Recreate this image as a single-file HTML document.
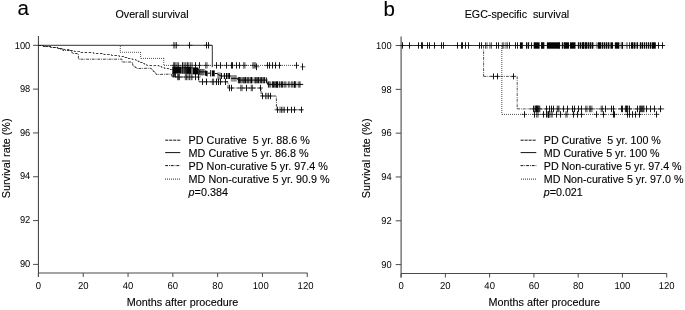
<!DOCTYPE html>
<html><head><meta charset="utf-8"><title>Survival curves</title>
<style>html,body{margin:0;padding:0;background:#fff}body{width:685px;height:310px;overflow:hidden}svg{display:block;will-change:transform}text{font-family:"Liberation Sans",sans-serif;stroke:#000;stroke-width:0.12px}</style></head>
<body>
<svg width="685" height="310" viewBox="0 0 685 310" font-family="Liberation Sans, sans-serif" fill="#000" >
<path d="M38.45 35.9V277.0" stroke="#4a4a4a" stroke-width="1.1" fill="none"/>
<path d="M38.45 273.0H307.6" stroke="#4a4a4a" stroke-width="1.1" fill="none"/>
<path d="M33.050000000000004 45.30H38.45" stroke="#4a4a4a" stroke-width="1" fill="none"/>
<text transform="translate(30.25,48.50) scale(0.93,1)" font-size="10" text-anchor="end" style="stroke:none;text-rendering:geometricPrecision">100</text>
<path d="M33.050000000000004 89.12H38.45" stroke="#4a4a4a" stroke-width="1" fill="none"/>
<text transform="translate(30.25,92.15) scale(0.93,1)" font-size="10" text-anchor="end" style="stroke:none;text-rendering:geometricPrecision">98</text>
<path d="M33.050000000000004 132.94H38.45" stroke="#4a4a4a" stroke-width="1" fill="none"/>
<text transform="translate(30.25,135.80) scale(0.93,1)" font-size="10" text-anchor="end" style="stroke:none;text-rendering:geometricPrecision">96</text>
<path d="M33.050000000000004 176.76H38.45" stroke="#4a4a4a" stroke-width="1" fill="none"/>
<text transform="translate(30.25,179.45) scale(0.93,1)" font-size="10" text-anchor="end" style="stroke:none;text-rendering:geometricPrecision">94</text>
<path d="M33.050000000000004 220.58H38.45" stroke="#4a4a4a" stroke-width="1" fill="none"/>
<text transform="translate(30.25,223.10) scale(0.93,1)" font-size="10" text-anchor="end" style="stroke:none;text-rendering:geometricPrecision">92</text>
<path d="M33.050000000000004 264.40H38.45" stroke="#4a4a4a" stroke-width="1" fill="none"/>
<text transform="translate(30.25,266.75) scale(0.93,1)" font-size="10" text-anchor="end" style="stroke:none;text-rendering:geometricPrecision">90</text>
<path d="M38.45 273.0V277.0" stroke="#4a4a4a" stroke-width="1" fill="none"/>
<text transform="translate(38.45,289.30) scale(0.95,1)" font-size="10" text-anchor="middle" style="stroke:none;text-rendering:geometricPrecision">0</text>
<path d="M83.25 273.0V277.0" stroke="#4a4a4a" stroke-width="1" fill="none"/>
<text transform="translate(83.25,289.30) scale(0.95,1)" font-size="10" text-anchor="middle" style="stroke:none;text-rendering:geometricPrecision">20</text>
<path d="M128.05 273.0V277.0" stroke="#4a4a4a" stroke-width="1" fill="none"/>
<text transform="translate(128.05,289.30) scale(0.95,1)" font-size="10" text-anchor="middle" style="stroke:none;text-rendering:geometricPrecision">40</text>
<path d="M172.85 273.0V277.0" stroke="#4a4a4a" stroke-width="1" fill="none"/>
<text transform="translate(172.85,289.30) scale(0.95,1)" font-size="10" text-anchor="middle" style="stroke:none;text-rendering:geometricPrecision">60</text>
<path d="M217.65 273.0V277.0" stroke="#4a4a4a" stroke-width="1" fill="none"/>
<text transform="translate(217.65,289.30) scale(0.95,1)" font-size="10" text-anchor="middle" style="stroke:none;text-rendering:geometricPrecision">80</text>
<path d="M262.45 273.0V277.0" stroke="#4a4a4a" stroke-width="1" fill="none"/>
<text transform="translate(260.75,289.30) scale(0.95,1)" font-size="10" text-anchor="middle" style="stroke:none;text-rendering:geometricPrecision">100</text>
<path d="M307.25 273.0V277.0" stroke="#4a4a4a" stroke-width="1" fill="none"/>
<text transform="translate(305.55,289.30) scale(0.95,1)" font-size="10" text-anchor="middle" style="stroke:none;text-rendering:geometricPrecision">120</text>
<text x="17.6" y="15.2" font-size="20.5" text-anchor="start" >a</text>
<text x="152.0" y="18.1" font-size="10.7" text-anchor="middle" >Overall survival</text>
<text x="305.6" y="306" font-size="10.8" text-anchor="start" ></text>
<text x="126.7" y="306" font-size="10.8" text-anchor="start" >Months after procedure</text>
<text transform="translate(10,158.4) rotate(-90)" font-size="10.8" text-anchor="middle">Survival rate (%)</text>
<polyline points="38.5,45.3 38.5,45.5 43.5,45.5 43.5,46.5 50.7,46.5 50.7,47.5 57.9,47.5 57.9,48.5 60.0,48.5 60.0,48.5 63.7,48.5 63.7,49.5 68.9,49.5 68.9,50.5 74.2,50.5 74.2,51.5 78.4,51.5 78.4,51.5 80.9,51.5 80.9,52.5 93.6,52.5 93.6,53.5 100.0,53.5 100.0,53.5 103.8,53.5 103.8,54.5 111.5,54.5 111.5,55.5 119.2,55.5 119.2,56.5 120.0,56.5 120.0,56.5 123.8,56.5 123.8,57.5 128.0,57.5 128.0,58.5 132.2,58.5 132.2,59.5 135.2,59.5 135.2,59.5 135.9,59.5 135.9,60.5 138.1,60.5 138.1,61.5 140.3,61.5 140.3,62.5 142.4,62.5 142.4,63.5 144.6,63.5 144.6,64.5 146.8,64.5 146.8,65.5 147.5,65.5 157.9,65.6 157.9,65.5 159.0,65.5 159.0,66.5 161.6,66.5 161.6,67.5 164.0,67.5 164.0,67.5 164.4,67.5 164.4,68.5 168.7,68.5 168.7,69.5 171.3,69.5 172.5,69.8" fill="none" stroke="#1a1a1a" stroke-width="0.85" stroke-dasharray="2.5 1.6"/>
<path d="M120.3 46.0L120.3 52.3" fill="none" stroke="#1a1a1a" stroke-width="0.75" stroke-dasharray="1 1"/>
<path d="M120.0 52.3L140.6 52.3" fill="none" stroke="#1a1a1a" stroke-width="0.75" stroke-dasharray="1 1"/>
<path d="M140.6 52.0L140.6 58.4" fill="none" stroke="#1a1a1a" stroke-width="0.75" stroke-dasharray="1 1"/>
<path d="M141.0 58.4L163.8 58.4" fill="none" stroke="#1a1a1a" stroke-width="0.75" stroke-dasharray="1 1"/>
<path d="M163.8 58.0L163.8 65.4" fill="none" stroke="#1a1a1a" stroke-width="0.75" stroke-dasharray="1 1"/>
<path d="M164.0 65.4L300.0 65.4" fill="none" stroke="#1a1a1a" stroke-width="0.75" stroke-dasharray="1 1"/>
<polyline points="38.5,45.3 38.5,45.5 43.4,45.5 43.4,46.5 50.3,46.5 50.3,47.5 57.2,47.5 57.2,48.5 60.0,48.5 60.0,48.5 60.6,48.5 60.6,49.5 61.5,49.5 61.5,49.5 62.9,49.5 62.9,50.5 71.0,50.5 71.0,50.5 71.2,50.5 71.2,51.5 71.8,51.5 71.8,52.5 72.4,52.5 72.4,53.5 72.5,53.5 72.5,53.5 77.2,53.5 77.2,54.5 78.4,54.5 78.4,59.2 122.0,59.2 122.0,62.0 132.0,62.0 132.0,62.5 132.3,62.5 132.3,63.5 132.6,63.5 132.6,64.5 132.9,64.5 132.9,65.5 133.0,65.5 133.0,65.5 133.9,65.5 133.9,66.5 135.2,66.5 135.2,67.5 136.4,67.5 136.4,68.5 136.7,68.5 150.6,68.2 150.6,68.5 151.4,68.5 151.4,69.5 152.3,69.5 152.3,70.5 153.3,70.5 153.3,71.5 154.3,71.5 154.3,72.5 155.2,72.5 155.2,73.5 156.2,73.5 156.2,74.5 156.3,74.5 171.5,74.1 172.0,77.0 199.0,77.0 199.0,81.8 228.0,81.8 228.0,88.0 261.2,88.0 261.2,96.0 276.4,96.0 276.4,109.8 304.0,109.8" fill="none" stroke="#1a1a1a" stroke-width="0.85" stroke-dasharray="2.8 1 0.8 1"/>
<polyline points="38.5,45.3 212.3,45.3 212.3,67.2" fill="none" stroke="#1a1a1a" stroke-width="0.9"/>
<path d="M171.2 45.3H179.1M187.2 45.3H192.4M203.8 45.3H211.5" stroke="#1a1a1a" stroke-width="0.75" fill="none"/>
<path d="M189.5 42.1V48.5M206.5 42.1V48.5M208.5 42.1V48.5" stroke="#000" stroke-width="0.9" fill="none" opacity="1"/>
<path d="M173.8 42.1V48.5M175.0 42.1V48.5M176.5 42.1V48.5" stroke="#000" stroke-width="0.7" fill="none" opacity="1"/>
<path d="M254.2 66.8H259.4M300.2 66.8H305.4" stroke="#1a1a1a" stroke-width="0.75" fill="none"/>
<path d="M256.5 63.4V70.2M302.5 63.4V70.2" stroke="#000" stroke-width="0.9" fill="none" opacity="1"/>
<path d="M171.0 65.4H201.9M203.1 65.4H209.6M213.9 65.4H223.4M223.5 65.4H247.5M250.3 65.4H257.8M264.8 65.4H281.6M293.8 65.4H299.0" stroke="#1a1a1a" stroke-width="0.75" fill="none"/>
<path d="M182.5 62.2V68.6M195.5 62.2V68.6M199.5 62.2V68.6M216.5 62.2V68.6M220.5 62.2V68.6M226.5 62.2V68.6M231.5 62.2V68.6M232.5 62.2V68.6M236.5 62.2V68.6M239.5 62.2V68.6M267.5 62.2V68.6M269.5 62.2V68.6M272.5 62.2V68.6M275.5 62.2V68.6M279.5 62.2V68.6M296.5 62.2V68.6" stroke="#000" stroke-width="0.9" fill="none" opacity="1"/>
<path d="M173.6 62.2V68.6M174.5 62.2V68.6M175.8 62.2V68.6M177.2 62.2V68.6M178.6 62.2V68.6M184.0 62.2V68.6M185.3 62.2V68.6M187.1 62.2V68.6M187.6 62.2V68.6M188.9 62.2V68.6M190.7 62.2V68.6M192.1 62.2V68.6M205.7 62.2V68.6M207.0 62.2V68.6M243.7 62.2V68.6M244.9 62.2V68.6M252.9 62.2V68.6M254.0 62.2V68.6M255.2 62.2V68.6" stroke="#000" stroke-width="0.7" fill="none" opacity="1"/>
<path d="M175.0 77.0H182.1M182.7 77.0H200.6" stroke="#1a1a1a" stroke-width="0.75" fill="none"/>
<path d="M195.5 73.8V80.2M198.5 73.8V80.2" stroke="#000" stroke-width="0.9" fill="none" opacity="1"/>
<path d="M177.6 73.8V80.2M178.5 73.8V80.2M179.5 73.8V80.2M185.3 73.8V80.2M186.5 73.8V80.2M188.0 73.8V80.2M189.5 73.8V80.2M191.0 73.8V80.2M192.0 73.8V80.2" stroke="#000" stroke-width="0.7" fill="none" opacity="1"/>
<path d="M199.9 81.8H209.0M209.8 81.8H228.0" stroke="#1a1a1a" stroke-width="0.75" fill="none"/>
<path d="M202.5 78.6V85.0M206.5 78.6V85.0M216.5 78.6V85.0M218.5 78.6V85.0M220.5 78.6V85.0M225.5 78.6V85.0" stroke="#000" stroke-width="0.9" fill="none" opacity="1"/>
<path d="M212.4 78.6V85.0M213.6 78.6V85.0" stroke="#000" stroke-width="0.7" fill="none" opacity="1"/>
<path d="M227.2 88.0H234.2M238.2 88.0H248.6M248.7 88.0H255.0M257.8 88.0H263.0" stroke="#1a1a1a" stroke-width="0.75" fill="none"/>
<path d="M229.5 84.8V91.2M231.5 84.8V91.2M246.5 84.8V91.2M260.5 84.8V91.2" stroke="#000" stroke-width="0.9" fill="none" opacity="1"/>
<path d="M240.8 84.8V91.2M242.0 84.8V91.2M251.3 84.8V91.2M252.4 84.8V91.2" stroke="#000" stroke-width="0.7" fill="none" opacity="1"/>
<path d="M260.1 96.0H273.2" stroke="#1a1a1a" stroke-width="0.75" fill="none"/>
<path d="M262.5 92.8V99.2M270.5 92.8V99.2" stroke="#000" stroke-width="0.9" fill="none" opacity="1"/>
<path d="M265.6 92.8V99.2M267.0 92.8V99.2M268.5 92.8V99.2" stroke="#000" stroke-width="0.7" fill="none" opacity="1"/>
<path d="M274.6 109.8H297.2M298.5 109.8H303.7" stroke="#1a1a1a" stroke-width="0.75" fill="none"/>
<path d="M277.5 106.7V112.9M287.5 106.7V112.9M291.5 106.7V112.9M294.5 106.7V112.9M301.5 106.7V112.9" stroke="#000" stroke-width="0.9" fill="none" opacity="1"/>
<path d="M280.0 106.7V112.9M281.5 106.7V112.9M283.0 106.7V112.9M284.4 106.7V112.9" stroke="#000" stroke-width="0.7" fill="none" opacity="1"/>
<path d="M172.3 66.60H181.6V73.60H172.3Z" fill="#050505" opacity="1"/>
<path d="M172.4 72.80H176V77.20H172.4Z" fill="#050505" opacity="0.85"/>
<path d="M181.6 66.70H186.1V73.70H181.6Z" fill="#050505" opacity="0.55"/>
<path d="M182.60 66.70V73.70M184.20 66.70V73.70M185.40 66.70V73.70" stroke="#000" stroke-width="0.8" fill="none" opacity="1"/>
<path d="M186.1 66.70H191.4V73.90H186.1Z" fill="#050505" opacity="1"/>
<path d="M191.4 67.00H192.9V74.00H191.4Z" fill="#050505" opacity="0.55"/>
<path d="M192.9 67.40H198.2V74.40H192.9Z" fill="#050505" opacity="1"/>
<path d="M198.2 67.6L199.6 70.2V74.4H198.2Z" fill="#050505"/>
<path d="M199 71.9H205.2M207.6 73.2H210M214.7 73.5H217.5" stroke="#000" stroke-width="1" fill="none"/>
<path d="M199.60 69.00V75.40M200.50 69.00V75.40M201.40 69.00V75.40M202.30 69.00V75.40M203.20 69.00V75.40M204.10 69.00V75.40" stroke="#000" stroke-width="0.7" fill="none" opacity="0.9"/>
<path d="M205 70.2L207.6 70.9V76.5L205 75.6Z" fill="#050505"/>
<path d="M210.60 70.10V76.50" stroke="#000" stroke-width="0.9" fill="none" opacity="1"/>
<path d="M211.8 70.35H214.7V76.35H211.8Z" fill="#050505" opacity="1"/>
<path d="M217.60 72.40V79.60M218.50 72.40V79.60M219.40 72.40V79.60M220.30 72.40V79.60" stroke="#000" stroke-width="0.55" fill="none" opacity="0.7"/>
<path d="M217.5 74.2L221 76H231M231 78.3H237.5L238 80.1H267.4M266.5 80.1L267.6 84.4H303.2" stroke="#000" stroke-width="1" fill="none"/>
<path d="M221.40 73.10V78.90M224.40 73.10V78.90M226.50 73.10V78.90M228.10 73.10V78.90M229.40 73.10V78.90" stroke="#000" stroke-width="1.05" fill="none" opacity="1"/>
<path d="M231.20 75.00V81.60M232.05 75.00V81.60M232.90 75.00V81.60M233.75 75.00V81.60M234.60 75.00V81.60M235.45 75.00V81.60M236.30 75.00V81.60" stroke="#000" stroke-width="0.55" fill="none" opacity="0.75"/>
<path d="M238.40 77.10V83.30M239.60 77.10V83.30M240.90 77.10V83.30M243.00 77.10V83.30M244.20 77.10V83.30M245.50 77.10V83.30M247.20 77.10V83.30M248.80 77.10V83.30M255.10 77.10V83.30M256.00 77.10V83.30M257.20 77.10V83.30M258.50 77.10V83.30M260.20 77.10V83.30M261.40 77.10V83.30M263.10 77.10V83.30M264.40 77.10V83.30" stroke="#000" stroke-width="0.95" fill="none" opacity="1"/>
<path d="M250.4 77.00H252.3V83.40H250.4Z" fill="#050505" opacity="1"/>
<path d="M238.2 77.20H266V83.20H238.2Z" fill="#050505" opacity="0.22"/>
<path d="M266.60 77.40V83.20" stroke="#000" stroke-width="0.9" fill="none" opacity="1"/>
<path d="M268.40 81.40V87.60M270.00 81.40V87.60M272.60 81.40V87.60M273.40 81.40V87.60M274.20 81.40V87.60M279.70 81.40V87.60M281.40 81.40V87.60M282.60 81.40V87.60" stroke="#000" stroke-width="0.95" fill="none" opacity="1"/>
<path d="M275.4 81.30H278.1V87.70H275.4Z" fill="#050505" opacity="1"/>
<path d="M294 81.30H295.7V87.70H294Z" fill="#050505" opacity="1"/>
<path d="M284.30 81.40V87.60M285.10 81.40V87.60M285.90 81.40V87.60M288.50 81.40V87.60M289.30 81.40V87.60M291.40 81.40V87.60M292.20 81.40V87.60M293.00 81.40V87.60M298.60 81.40V87.60M299.40 81.40V87.60M300.20 81.40V87.60" stroke="#000" stroke-width="0.6" fill="none" opacity="0.8"/>
<path d="M268.2 81.60H301V87.40H268.2Z" fill="#050505" opacity="0.18"/>
<path d="M165.2 140.2H180.3" stroke="#111" stroke-width="1.0" fill="none" stroke-dasharray="3.05 0.95"/>
<text x="188.6" y="143.9" font-size="10.8" text-anchor="start" xml:space="preserve">PD Curative  5 yr. 88.6 %</text>
<path d="M165.2 152.6H180.3" stroke="#111" stroke-width="1.0" fill="none"/>
<text x="188.6" y="157.0" font-size="10.8" text-anchor="start" xml:space="preserve">MD Curative 5 yr. 86.8 %</text>
<path d="M165.2 165.6H180.3" stroke="#111" stroke-width="1.0" fill="none" stroke-dasharray="2.8 1 0.8 1"/>
<text x="188.6" y="169.8" font-size="10.8" text-anchor="start" xml:space="preserve">PD Non-curative 5 yr. 97.4 %</text>
<path d="M165 179.2H180.3" stroke="#555" stroke-width="1.3" fill="none" stroke-dasharray="1 1"/>
<text x="188.6" y="183.0" font-size="10.8" text-anchor="start" xml:space="preserve">MD Non-curative 5 yr. 90.9 %</text>
<text x="188.6" y="196.3" font-size="10.8"><tspan font-style="italic">p</tspan>=0.384</text>
<path d="M401.1 36.5V277.5" stroke="#4a4a4a" stroke-width="1.1" fill="none"/>
<path d="M401.1 273.5H666.9" stroke="#4a4a4a" stroke-width="1.1" fill="none"/>
<path d="M395.70000000000005 45.55H401.1" stroke="#4a4a4a" stroke-width="1" fill="none"/>
<text transform="translate(391.60,49.10) scale(0.93,1)" font-size="10" text-anchor="end" style="stroke:none;text-rendering:geometricPrecision">100</text>
<path d="M395.70000000000005 89.36H401.1" stroke="#4a4a4a" stroke-width="1" fill="none"/>
<text transform="translate(391.60,92.78) scale(0.93,1)" font-size="10" text-anchor="end" style="stroke:none;text-rendering:geometricPrecision">98</text>
<path d="M395.70000000000005 133.17H401.1" stroke="#4a4a4a" stroke-width="1" fill="none"/>
<text transform="translate(391.60,136.46) scale(0.93,1)" font-size="10" text-anchor="end" style="stroke:none;text-rendering:geometricPrecision">96</text>
<path d="M395.70000000000005 176.98H401.1" stroke="#4a4a4a" stroke-width="1" fill="none"/>
<text transform="translate(391.60,180.14) scale(0.93,1)" font-size="10" text-anchor="end" style="stroke:none;text-rendering:geometricPrecision">94</text>
<path d="M395.70000000000005 220.79H401.1" stroke="#4a4a4a" stroke-width="1" fill="none"/>
<text transform="translate(391.60,223.82) scale(0.93,1)" font-size="10" text-anchor="end" style="stroke:none;text-rendering:geometricPrecision">92</text>
<path d="M395.70000000000005 264.60H401.1" stroke="#4a4a4a" stroke-width="1" fill="none"/>
<text transform="translate(391.60,267.50) scale(0.93,1)" font-size="10" text-anchor="end" style="stroke:none;text-rendering:geometricPrecision">90</text>
<path d="M401.10 273.5V277.5" stroke="#4a4a4a" stroke-width="1" fill="none"/>
<text transform="translate(401.10,289.40) scale(0.95,1)" font-size="10" text-anchor="middle" style="stroke:none;text-rendering:geometricPrecision">0</text>
<path d="M445.37 273.5V277.5" stroke="#4a4a4a" stroke-width="1" fill="none"/>
<text transform="translate(445.37,289.40) scale(0.95,1)" font-size="10" text-anchor="middle" style="stroke:none;text-rendering:geometricPrecision">20</text>
<path d="M489.64 273.5V277.5" stroke="#4a4a4a" stroke-width="1" fill="none"/>
<text transform="translate(489.64,289.40) scale(0.95,1)" font-size="10" text-anchor="middle" style="stroke:none;text-rendering:geometricPrecision">40</text>
<path d="M533.91 273.5V277.5" stroke="#4a4a4a" stroke-width="1" fill="none"/>
<text transform="translate(533.91,289.40) scale(0.95,1)" font-size="10" text-anchor="middle" style="stroke:none;text-rendering:geometricPrecision">60</text>
<path d="M578.18 273.5V277.5" stroke="#4a4a4a" stroke-width="1" fill="none"/>
<text transform="translate(578.18,289.40) scale(0.95,1)" font-size="10" text-anchor="middle" style="stroke:none;text-rendering:geometricPrecision">80</text>
<path d="M622.45 273.5V277.5" stroke="#4a4a4a" stroke-width="1" fill="none"/>
<text transform="translate(622.45,289.40) scale(0.95,1)" font-size="10" text-anchor="middle" style="stroke:none;text-rendering:geometricPrecision">100</text>
<path d="M666.72 273.5V277.5" stroke="#4a4a4a" stroke-width="1" fill="none"/>
<text transform="translate(666.72,289.40) scale(0.95,1)" font-size="10" text-anchor="middle" style="stroke:none;text-rendering:geometricPrecision">120</text>
<text x="383.6" y="15.6" font-size="20.5" text-anchor="start" >b</text>
<text x="464.7" y="18.1" font-size="10.7" xml:space="preserve">EGC-specific  survival</text>
<text x="488.5" y="306.1" font-size="10.8" text-anchor="start" >Months after procedure</text>
<text transform="translate(370,158.4) rotate(-90)" font-size="10.8" text-anchor="middle">Survival rate (%)</text>
<path d="M483.6 45.8L483.6 76.4" fill="none" stroke="#1a1a1a" stroke-width="0.75" stroke-dasharray="2.8 1 0.8 1"/>
<path d="M483.6 76.4L517.2 76.4" fill="none" stroke="#1a1a1a" stroke-width="0.75" stroke-dasharray="2.8 1 0.8 1"/>
<path d="M517.2 76.4L517.2 108.9" fill="none" stroke="#1a1a1a" stroke-width="0.75" stroke-dasharray="2.8 1 0.8 1"/>
<path d="M517.2 108.9L664.2 108.9" fill="none" stroke="#1a1a1a" stroke-width="0.75" stroke-dasharray="2.8 1 0.8 1"/>
<path d="M501.8 46.0L501.8 114.4" fill="none" stroke="#1a1a1a" stroke-width="0.75" stroke-dasharray="1 1"/>
<path d="M502.0 114.4L658.9 114.4" fill="none" stroke="#1a1a1a" stroke-width="0.75" stroke-dasharray="1 1"/>
<polyline points="401.2,45.5 664.8,45.5" fill="none" stroke="#1a1a1a" stroke-width="0.9"/>
<path d="M399.8 45.5H405.0M406.8 45.5H412.0M416.3 45.5H436.8M438.5 45.5H446.3M454.7 45.5H470.9M477.1 45.5H494.0M494.2 45.5H511.9M512.9 45.5H520.3" stroke="#1a1a1a" stroke-width="0.75" fill="none"/>
<path d="M402.5 42.3V48.7M409.5 42.3V48.7M418.5 42.3V48.7M421.5 42.3V48.7M422.5 42.3V48.7M427.5 42.3V48.7M429.5 42.3V48.7M434.5 42.3V48.7M441.5 42.3V48.7M443.5 42.3V48.7M457.5 42.3V48.7M461.5 42.3V48.7M462.5 42.3V48.7M465.5 42.3V48.7M468.5 42.3V48.7M479.5 42.3V48.7M481.5 42.3V48.7M496.5 42.3V48.7M498.5 42.3V48.7M509.5 42.3V48.7M515.5 42.3V48.7M517.5 42.3V48.7" stroke="#000" stroke-width="0.9" fill="none" opacity="1"/>
<path d="M485.5 42.3V48.7M487.0 42.3V48.7M489.9 42.3V48.7M491.4 42.3V48.7M502.3 42.3V48.7M503.8 42.3V48.7M506.0 42.3V48.7M507.4 42.3V48.7" stroke="#000" stroke-width="0.7" fill="none" opacity="1"/>
<path d="M519.9 42.30H522.8V48.70H519.9Z" fill="#050505" opacity="1"/>
<path d="M526.4 42.40H529.3V48.60H526.4Z" fill="#050505" opacity="0.42"/>
<path d="M533.7 42.30H539.6V48.70H533.7Z" fill="#050505" opacity="1"/>
<path d="M541 42.40H544.7V48.60H541Z" fill="#050505" opacity="0.5"/>
<path d="M546.9 42.30H559.5V48.70H546.9Z" fill="#050505" opacity="1"/>
<path d="M559.5 42.40H561.7V48.60H559.5Z" fill="#050505" opacity="0.08"/>
<path d="M561.7 42.40H564.6V48.60H561.7Z" fill="#050505" opacity="0.42"/>
<path d="M564.6 42.30H569V48.70H564.6Z" fill="#050505" opacity="1"/>
<path d="M569 42.40H571V48.60H569Z" fill="#050505" opacity="0.08"/>
<path d="M571 42.30H575.5V48.70H571Z" fill="#050505" opacity="1"/>
<path d="M577.7 42.40H583.6V48.60H577.7Z" fill="#050505" opacity="0.42"/>
<path d="M583.6 42.40H593.8V48.60H583.6Z" fill="#050505" opacity="0.5"/>
<path d="M593.8 42.40H596V48.60H593.8Z" fill="#050505" opacity="0.08"/>
<path d="M596 42.40H610.5V48.60H596Z" fill="#050505" opacity="0.42"/>
<path d="M610.5 42.30H613V48.70H610.5Z" fill="#050505" opacity="1"/>
<path d="M613 42.40H614.9V48.60H613Z" fill="#050505" opacity="0.08"/>
<path d="M614.9 42.30H619.2V48.70H614.9Z" fill="#050505" opacity="1"/>
<path d="M619.2 42.40H621.5V48.60H619.2Z" fill="#050505" opacity="0.25"/>
<path d="M621.5 42.30H622.5V48.70H621.5Z" fill="#050505" opacity="1"/>
<path d="M622.5 42.40H626.5V48.60H622.5Z" fill="#050505" opacity="0.08"/>
<path d="M626.6 42.30H627.4V48.70H626.6Z" fill="#050505" opacity="1"/>
<path d="M629.1 42.30H629.9V48.70H629.1Z" fill="#050505" opacity="1"/>
<path d="M629.9 42.40H632.3V48.60H629.9Z" fill="#050505" opacity="0.08"/>
<path d="M632.3 42.40H637.8V48.60H632.3Z" fill="#050505" opacity="0.5"/>
<path d="M637.8 42.40H639.7V48.60H637.8Z" fill="#050505" opacity="0.08"/>
<path d="M639.7 42.40H642.8V48.60H639.7Z" fill="#050505" opacity="0.5"/>
<path d="M642.8 42.40H647.8V48.60H642.8Z" fill="#050505" opacity="0.25"/>
<path d="M647.8 42.40H649.6V48.60H647.8Z" fill="#050505" opacity="0.25"/>
<path d="M649.6 42.40H652.7V48.60H649.6Z" fill="#050505" opacity="0.42"/>
<path d="M652.7 42.30H655.8V48.70H652.7Z" fill="#050505" opacity="1"/>
<path d="M526.50 42.30V48.70M528.50 42.30V48.70M541.50 42.30V48.70M542.50 42.30V48.70M543.50 42.30V48.70M559.50 42.30V48.70M562.50 42.30V48.70M564.50 42.30V48.70M570.50 42.30V48.70M578.50 42.30V48.70M580.50 42.30V48.70M582.50 42.30V48.70M583.50 42.30V48.70M583.50 42.30V48.70M585.50 42.30V48.70M586.50 42.30V48.70M588.50 42.30V48.70M590.50 42.30V48.70M592.50 42.30V48.70M598.50 42.30V48.70M599.50 42.30V48.70M600.50 42.30V48.70M602.50 42.30V48.70M604.50 42.30V48.70M606.50 42.30V48.70M608.50 42.30V48.70M622.50 42.30V48.70M631.50 42.30V48.70M632.50 42.30V48.70M634.50 42.30V48.70M637.50 42.30V48.70M640.50 42.30V48.70M642.50 42.30V48.70M644.50 42.30V48.70M646.50 42.30V48.70M648.50 42.30V48.70M650.50 42.30V48.70M652.50 42.30V48.70" stroke="#0a0a0a" stroke-width="1.0" fill="none" opacity="1"/>
<path d="M528.9 45.5H534.1M656.0 45.5H665.2" stroke="#1a1a1a" stroke-width="0.75" fill="none"/>
<path d="M531.5 42.3V48.7M658.5 42.3V48.7M662.5 42.3V48.7" stroke="#000" stroke-width="0.9" fill="none" opacity="1"/>
<path d="M490.9 76.4H499.9M510.8 76.4H516.0" stroke="#1a1a1a" stroke-width="0.75" fill="none"/>
<path d="M493.5 73.4V79.4M497.5 73.4V79.4M513.5 73.4V79.4" stroke="#000" stroke-width="0.9" fill="none" opacity="1"/>
<path d="M530.4 108.9H542.4M544.0 108.9H569.7M570.1 108.9H594.5M598.6 108.9H608.1M608.5 108.9H615.6M618.4 108.9H632.3M634.5 108.9H657.1M658.1 108.9H663.3" stroke="#1a1a1a" stroke-width="0.75" fill="none"/>
<path d="M533.5 105.6V112.2M546.5 105.6V112.2M549.5 105.6V112.2M551.5 105.6V112.2M553.5 105.6V112.2M563.5 105.6V112.2M567.5 105.6V112.2M572.5 105.6V112.2M574.5 105.6V112.2M578.5 105.6V112.2M581.5 105.6V112.2M605.5 105.6V112.2M611.5 105.6V112.2M613.5 105.6V112.2M621.5 105.6V112.2M622.5 105.6V112.2M629.5 105.6V112.2M637.5 105.6V112.2M646.5 105.6V112.2M650.5 105.6V112.2M654.5 105.6V112.2M660.5 105.6V112.2" stroke="#000" stroke-width="0.9" fill="none" opacity="1"/>
<path d="M534.9 105.6V112.2M535.6 105.6V112.2M536.3 105.6V112.2M537.0 105.6V112.2M537.7 105.6V112.2M538.4 105.6V112.2M539.1 105.6V112.2M539.8 105.6V112.2M557.2 105.6V112.2M558.1 105.6V112.2M559.0 105.6V112.2M585.7 105.6V112.2M587.0 105.6V112.2M589.4 105.6V112.2M590.6 105.6V112.2M591.9 105.6V112.2M601.2 105.6V112.2M602.4 105.6V112.2M625.4 105.6V112.2M626.2 105.6V112.2M627.0 105.6V112.2M627.8 105.6V112.2M639.6 105.6V112.2M640.5 105.6V112.2M641.4 105.6V112.2M642.3 105.6V112.2M643.2 105.6V112.2M644.0 105.6V112.2" stroke="#000" stroke-width="0.7" fill="none" opacity="1"/>
<path d="M521.7 114.4H526.9M532.3 114.4H540.6M540.9 114.4H562.9M563.3 114.4H569.7M571.3 114.4H584.2M593.6 114.4H598.8M600.8 114.4H606.0M610.4 114.4H617.4M624.6 114.4H641.6M654.0 114.4H659.2" stroke="#1a1a1a" stroke-width="0.75" fill="none"/>
<path d="M524.5 111.2V117.6M534.5 111.2V117.6M543.5 111.2V117.6M546.5 111.2V117.6M556.5 111.2V117.6M560.5 111.2V117.6M573.5 111.2V117.6M577.5 111.2V117.6M581.5 111.2V117.6M596.5 111.2V117.6M603.5 111.2V117.6M613.5 111.2V117.6M614.5 111.2V117.6M627.5 111.2V117.6M629.5 111.2V117.6M632.5 111.2V117.6M635.5 111.2V117.6M639.5 111.2V117.6M656.5 111.2V117.6" stroke="#000" stroke-width="0.9" fill="none" opacity="1"/>
<path d="M536.7 111.2V117.6M538.0 111.2V117.6M547.9 111.2V117.6M548.5 111.2V117.6M549.1 111.2V117.6M551.0 111.2V117.6M552.2 111.2V117.6M565.9 111.2V117.6M567.1 111.2V117.6" stroke="#000" stroke-width="0.7" fill="none" opacity="1"/>
<path d="M535.6 105.70H538.2V112.10H535.6Z" fill="#050505" opacity="0.9"/>
<path d="M625.6 105.70H627.6V112.10H625.6Z" fill="#050505" opacity="0.8"/>
<path d="M547.9 111.50H549.2V117.70H547.9Z" fill="#050505" opacity="0.8"/>
<path d="M640 105.80H644V112.00H640Z" fill="#050505" opacity="0.3"/>
<path d="M520.6 140.2H536.3" stroke="#111" stroke-width="1.0" fill="none" stroke-dasharray="3.05 0.95"/>
<text x="543.8" y="143.9" font-size="10.7" text-anchor="start" xml:space="preserve">PD Curative  5 yr. 100 %</text>
<path d="M520.6 152.6H536.3" stroke="#111" stroke-width="1.0" fill="none"/>
<text x="543.8" y="157.0" font-size="10.7" text-anchor="start" xml:space="preserve">MD Curative 5 yr. 100 %</text>
<path d="M520.6 165.6H536.3" stroke="#111" stroke-width="1.0" fill="none" stroke-dasharray="2.8 1 0.8 1"/>
<text x="543.8" y="169.8" font-size="10.7" text-anchor="start" xml:space="preserve">PD Non-curative 5 yr. 97.4 %</text>
<path d="M521 179.2H536.3" stroke="#555" stroke-width="1.3" fill="none" stroke-dasharray="1 1"/>
<text x="543.8" y="183.0" font-size="10.7" text-anchor="start" xml:space="preserve">MD Non-curative 5 yr. 97.0 %</text>
<text x="543.8" y="196.3" font-size="10.7"><tspan font-style="italic">p</tspan>=0.021</text>
</svg>
</body></html>
